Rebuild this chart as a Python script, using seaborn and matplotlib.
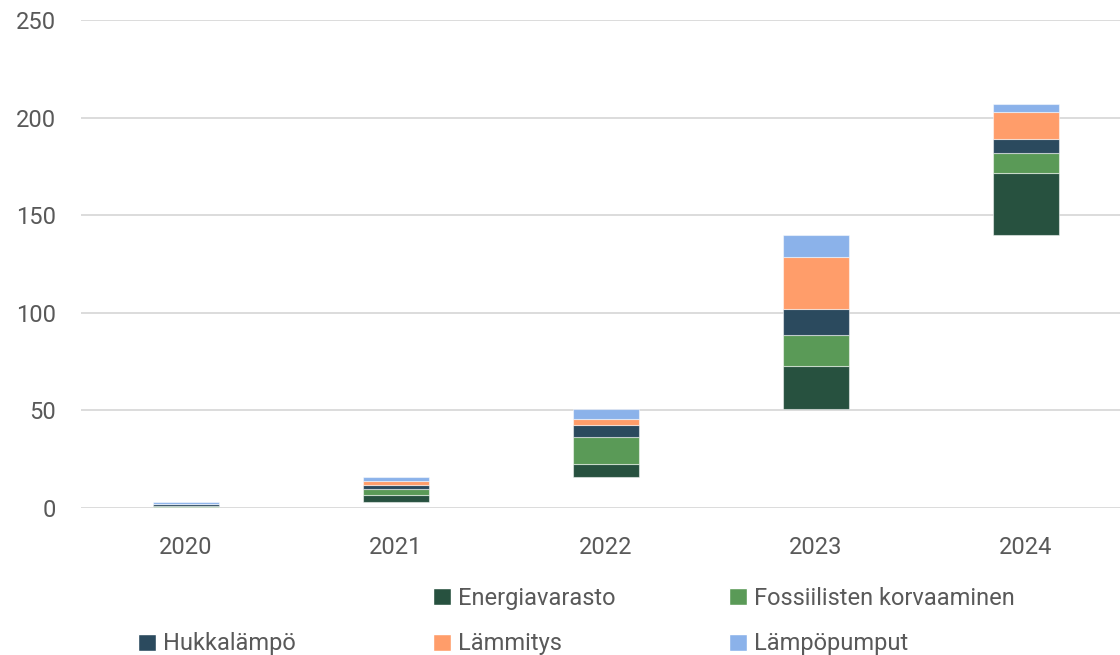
import numpy as np
import pandas as pd
import matplotlib.pyplot as plt
import seaborn as sns
from matplotlib.patches import Patch

years = ["2020", "2021", "2022", "2023", "2024"]
series = ["Energiavarasto", "Fossiilisten korvaaminen", "Hukkalämpö", "Lämmitys", "Lämpöpumput"]
energiavarasto = [0.3, 3.6, 6.8, 21.8, 31.8]
fossiilisten = [0.7, 3.3, 14.0, 16.2, 10.2]
hukkalampo = [0.8, 2.0, 6.0, 13.0, 6.8]
lammitys = [0.2, 2.0, 3.1, 27.0, 14.0]
lampopumput = [0.9, 2.0, 5.0, 11.3, 4.3]
colors = ["#27513f", "#5a9a57", "#2b4a5e", "#ff9d6a", "#8bb2ea"]

values = [energiavarasto, fossiilisten, hukkalampo, lammitys, lampopumput]

sns.set_theme(style="white")
plt.rcParams["font.family"] = ["Roboto", "DejaVu Sans"]
text_col = "#595959"

fig = plt.figure(figsize=(11.2, 6.55), dpi=100)
ax = fig.add_axes([81 / 1120, 147 / 655, 1050 / 1120, 488 / 655])

# floating bars: each year starts where the previous year's total ended
totals = np.sum(values, axis=0)
base = np.concatenate([[0], np.cumsum(totals)[:-1]])
bottom = base.copy()
for name, vals, c in zip(series, values, colors):
    df = pd.DataFrame({"year": years, "value": vals})
    sns.barplot(data=df, x="year", y="value", color=c, width=0.314,
                bottom=bottom, ax=ax, saturation=1,
                edgecolor=(1, 1, 1, 0.5), linewidth=0.8, zorder=3)
    bottom = bottom + np.array(vals)

ax.set_xlim(-0.5, 4.5)
ax.set_ylim(0, 250)
ax.set_yticks(range(0, 251, 50))
ax.grid(axis="y", color="#d9d9d9", linewidth=1.3, zorder=0)
ax.set_axisbelow(True)
for s in ax.spines.values():
    s.set_visible(False)
ax.set_xlabel("")
ax.set_ylabel("")
ax.tick_params(axis="both", length=0, labelsize=17, labelcolor=text_col)
ax.tick_params(axis="x", pad=20)
ax.tick_params(axis="y", pad=18)

# legend laid out in three columns, first slot of row one left empty
cols = [[None, 2], [0, 3], [1, 4]]
xs = [138, 433, 729]
for col, x in zip(cols, xs):
    handles, labels = [], []
    for i in col:
        if i is None:
            handles.append(Patch(color="none"))
            labels.append(" ")
        else:
            handles.append(Patch(facecolor=colors[i]))
            labels.append(series[i])
    leg = fig.legend(handles, labels, loc="upper left",
                     bbox_to_anchor=(x / 1120, 1 - 587 / 655),
                     frameon=False, fontsize=17, handlelength=0.75,
                     handleheight=0.75, handletextpad=0.3, labelspacing=0.95,
                     borderpad=0, borderaxespad=0)
    for t in leg.get_texts():
        t.set_color(text_col)

fig.savefig("out.png", dpi=100)
